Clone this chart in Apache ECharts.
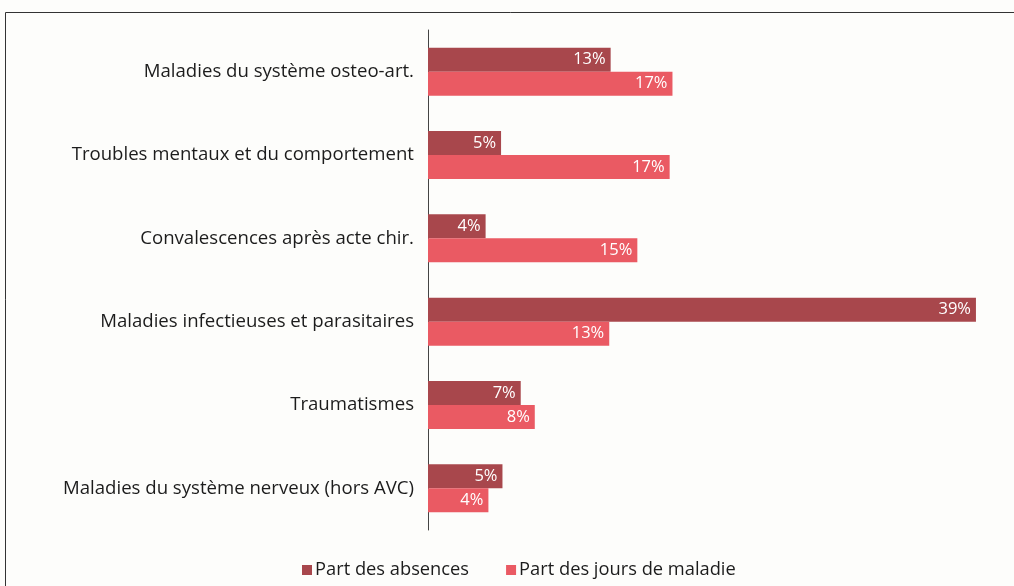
<!DOCTYPE html>
<html>
<head>
<meta charset="utf-8">
<script src="https://cdn.jsdelivr.net/npm/echarts@6/dist/echarts.min.js"></script>
<style>
    html, body { margin: 0; padding: 0; background: #fdfdfb; }
    #main { width: 1014px; height: 586px; }
</style>
</head>
<body>
<div id="main"></div>
<script>
var categories = [
    'Maladies du système osteo-art.',
    'Troubles mentaux et du comportement',
    'Convalescences après acte chir.',
    'Maladies infectieuses et parasitaires',
    'Traumatismes',
    'Maladies du système nerveux (hors AVC)'
];
var absences = [13, 5.2, 4.1, 39, 6.6, 5.3];
var joursMaladie = [17.4, 17.2, 14.9, 12.9, 7.6, 4.3];
var seriesNames = ['Part des absences', 'Part des jours de maladie'];

var fontFamily = '"Open Sans", sans-serif';

function pctLabel(p) {
    return Math.round(p.value) + '%';
}

var option = {
    backgroundColor: '#fdfdfb',
    animation: false,
    graphic: [
        {
            type: 'rect',
            shape: { x: 5.5, y: 12.5, width: 1100, height: 700 },
            style: { fill: 'none', stroke: '#333', lineWidth: 1 }
        }
    ],
    legend: {
        data: seriesNames,
        left: 297,
        top: 556,
        icon: 'rect',
        itemWidth: 10,
        itemHeight: 10,
        itemGap: 37,
        textStyle: { fontFamily: fontFamily, fontSize: 18.3, color: '#1c1c1c', padding: [0, 0, 0, -2] }
    },
    grid: {
        left: 428,
        right: 24,
        top: 30,
        height: 500
    },
    xAxis: {
        type: 'value',
        min: 0,
        max: 40,
        show: false
    },
    yAxis: {
        type: 'category',
        inverse: true,
        data: categories,
        axisLine: { show: true, lineStyle: { color: '#444', width: 1 } },
        axisTick: { show: false },
        axisLabel: {
            margin: 14,
            fontFamily: fontFamily,
            fontSize: 18.6,
            color: '#1c1c1c'
        }
    },
    series: [
        {
            name: seriesNames[0],
            type: 'bar',
            data: absences,
            barWidth: 24,
            barGap: '0%',
            itemStyle: { color: '#a8474c' },
            label: {
                show: true,
                position: 'insideRight',
                formatter: pctLabel,
                color: '#fff',
                fontFamily: fontFamily,
                fontSize: 16.5,
                distance: 5
            }
        },
        {
            name: seriesNames[1],
            type: 'bar',
            data: joursMaladie,
            barWidth: 24,
            barGap: '0%',
            itemStyle: { color: '#ea5a63' },
            label: {
                show: true,
                position: 'insideRight',
                formatter: pctLabel,
                color: '#fff',
                fontFamily: fontFamily,
                fontSize: 16.5,
                distance: 5
            }
        }
    ]
};

var myChart = echarts.init(document.getElementById('main'));
myChart.setOption(option);
</script>
</body>
</html>
